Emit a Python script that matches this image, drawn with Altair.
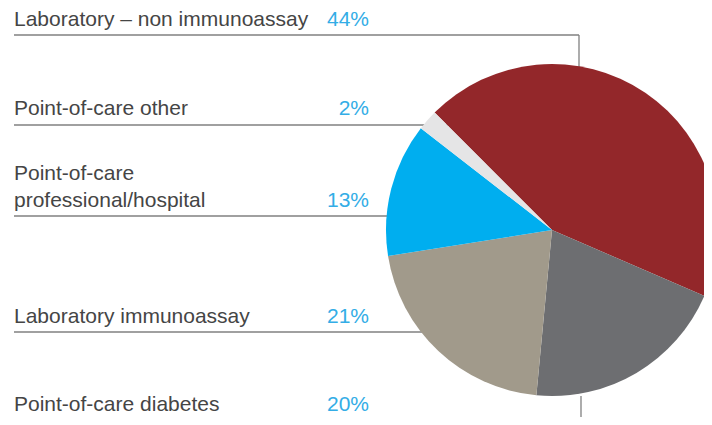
import math
import altair as alt
import pandas as pd

# ---- data ----
categories = [
    "Laboratory – non immunoassay",
    "Point-of-care diabetes",
    "Laboratory immunoassay",
    "Point-of-care professional/hospital",
    "Point-of-care other",
]
shares = [44, 20, 21, 13, 2]
label_text = [
    "Laboratory – non immunoassay",
    "Point-of-care diabetes",
    "Laboratory immunoassay",
    "Point-of-care\nprofessional/hospital",
    "Point-of-care other",
]
colors = ["#93272A", "#6D6E71", "#A19A8B", "#00AEEF", "#E5E5E6"]

# ---- layout (chart pixel coordinates; page = chart + 8) ----
W, H = 696, 409
CX, CY, R = 544, 222, 166
START = 7 * math.pi / 4
TEXT_X, PCT_X, LINE_X0 = 6, 361, 6
label_y = [18, 403, 315, 172, 107]     # first-line baseline
pct_y = [18, 403, 315, 199, 107]
line_y = [27, 420, 324, 208, 117]
line_x1 = [571, 573, 440, 440, 440]
vert = [(571, 27, 80), (573, 388, 430)]

pie_df = pd.DataFrame({"category": categories, "share": shares,
                       "order": list(range(len(categories)))})

lab_df = pd.DataFrame({
    "category": categories,
    "label": label_text,
    "pct": [f"{s}%" for s in shares],
    "ly": label_y, "py": pct_y,
})

rule_df = pd.DataFrame(
    [{"x": LINE_X0, "x2": x1, "y": y, "y2": y} for x1, y in zip(line_x1, line_y)]
    + [{"x": vx, "x2": vx, "y": y0, "y2": y1} for vx, y0, y1 in vert]
)

rules = alt.Chart(rule_df).mark_rule(color="#808080", strokeWidth=1.3).encode(
    x=alt.X("x:Q", scale=None), x2="x2:Q",
    y=alt.Y("y:Q", scale=None), y2="y2:Q",
)

pie = alt.Chart(pie_df).mark_arc(radius=R).encode(
    theta=alt.Theta("share:Q", stack=True,
                    scale=alt.Scale(range=[START, START + 2 * math.pi])),
    color=alt.Color("category:N",
                    scale=alt.Scale(domain=categories, range=colors),
                    legend=None),
    order=alt.Order("order:Q"),
    x=alt.value(CX), y=alt.value(CY),
)

labels = alt.Chart(lab_df).mark_text(
    align="left", baseline="alphabetic", font="Liberation Sans",
    fontSize=21, color="#454545", lineBreak="\n", lineHeight=27,
).encode(
    x=alt.value(TEXT_X),
    y=alt.Y("ly:Q", scale=None),
    text="label:N",
)

pcts = alt.Chart(lab_df).mark_text(
    align="right", baseline="alphabetic", font="Liberation Sans",
    fontSize=21, color="#33ADE6",
).encode(
    x=alt.value(PCT_X),
    y=alt.Y("py:Q", scale=None),
    text="pct:N",
)

chart = alt.layer(rules, pie, labels, pcts).properties(
    width=W, height=H, padding=0, autosize="none",
).configure_view(stroke=None)

chart.save("out.html", embed_options={"renderer": "svg", "actions": False})
